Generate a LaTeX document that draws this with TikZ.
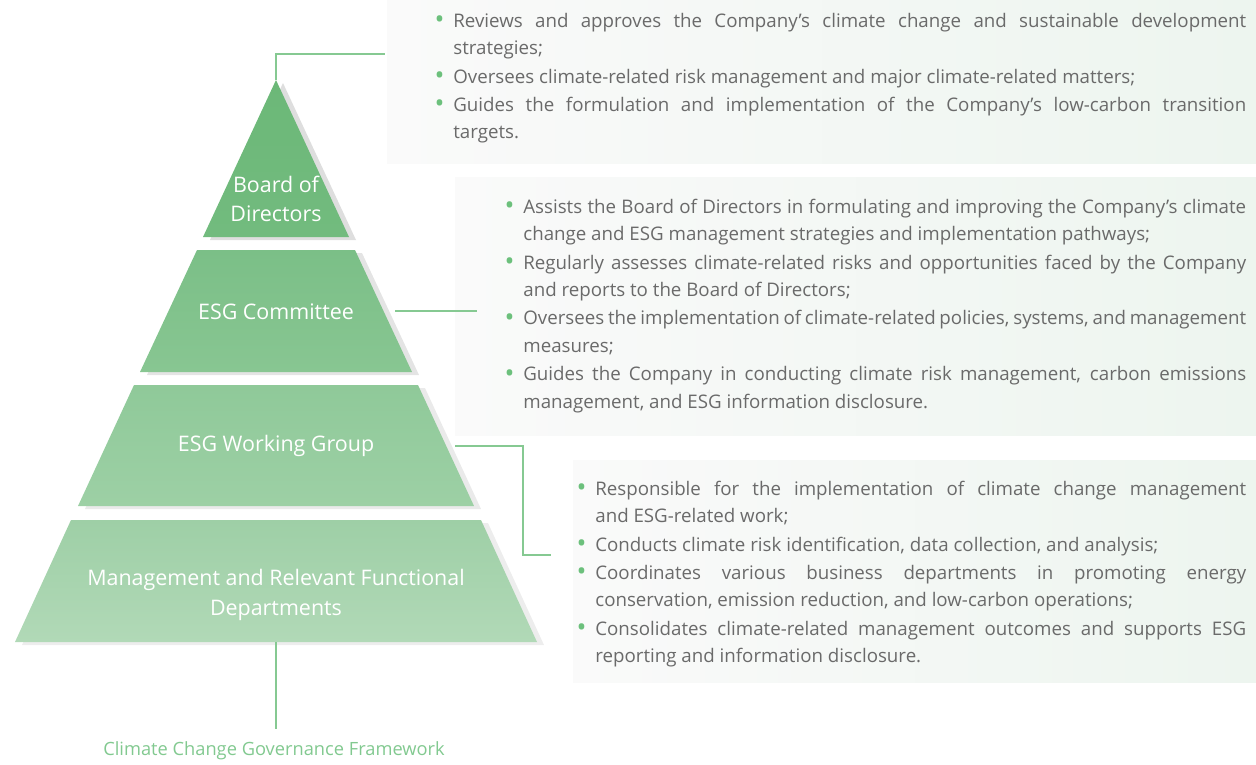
\documentclass[tikz,border=0pt]{standalone}
\usepackage{fontspec}
\setmainfont{Open Sans}[WordSpace={1,1.2,2}]
\usetikzlibrary{positioning}

\definecolor{tierA}{HTML}{6CB878}
\definecolor{tierAb}{HTML}{72BB7E}
\definecolor{tierB}{HTML}{7BBF87}
\definecolor{tierBb}{HTML}{88C692}
\definecolor{tierC}{HTML}{8FC999}
\definecolor{tierCb}{HTML}{9DD0A5}
\definecolor{tierD}{HTML}{9ECFA6}
\definecolor{tierDb}{HTML}{B1D9B7}
\definecolor{shadowgray}{HTML}{DEDEDE}
\definecolor{linkgreen}{HTML}{86C992}
\definecolor{dotgreen}{HTML}{6CC07C}
\definecolor{textgray}{HTML}{6A6A6A}
\definecolor{boxL}{HTML}{FAFAFA}
\definecolor{boxR}{HTML}{EDF5EF}

% no hyphenation in the duty lists
\hyphenpenalty=10000
\exhyphenpenalty=10000

\tikzstyle{tier}=[text=white, align=center, inner sep=0pt, font=\fontsize{12.2}{16.8}\selectfont]
\tikzstyle{link}=[draw=linkgreen, line width=0.65pt]
\tikzstyle{panel}=[left color=boxL, right color=boxR]
\tikzset{duty/.style={anchor=north west, inner sep=0pt, text width=#1, align=justify,
    text=textgray, font=\fontsize{10.65}{15.7}\selectfont}}
\newcommand{\dutydot}{\makebox[0pt][r]{\textcolor{dotgreen}{\fontsize{15}{15}\selectfont\raisebox{-0.05em}{\textbullet}}\hspace{5pt}}}

\begin{document}
\begin{tikzpicture}[x=0.02cm, y=-0.02cm]
    \useasboundingbox (0,0) rectangle (1256,764);

    % panels behind the duty lists
    \shade[panel] (387,0) rectangle (1256,163);
    \shade[panel] (455,177) rectangle (1256,435);
    \shade[panel] (573,460) rectangle (1256,682);

    % shadows, then the tiers
    \fill[shadowgray] (283,83) -- (210,240) -- (356,240) -- cycle;
    \fill[shadowgray!80] (204,253) -- (362,253) -- (419,375) -- (147,375) -- cycle;
    \fill[shadowgray!65] (141,388) -- (425,388) -- (481,509) -- (85,509) -- cycle;
    \fill[shadowgray!55] (78,523) -- (488,523) -- (544,645) -- (22,645) -- cycle;

    \shade[top color=tierA, bottom color=tierAb] (276,80) -- (203,237) -- (349,237) -- cycle;
    \shade[top color=tierB, bottom color=tierBb] (197,250) -- (355,250) -- (412,372) -- (140,372) -- cycle;
    \shade[top color=tierC, bottom color=tierCb] (134,385) -- (418,385) -- (474,506) -- (78,506) -- cycle;
    \shade[top color=tierD, bottom color=tierDb] (71,520) -- (481,520) -- (537,642) -- (15,642) -- cycle;

    \node (board)[tier] at (276,199) {Board of\\Directors};
    \node (committee)[tier] at (276,312) {ESG Committee};
    \node (wgroup)[tier] at (276,446) {ESG Working Group};
    \node (mgmt)[tier] at (276,595) {Management and Relevant Functional\\Departments};

    \node (caption)[text=dotgreen!85, font=\fontsize{10.4}{12}\selectfont] at (274,751) {Climate Change Governance Framework};

    % connectors
    \coordinate (apex) at (276,80);
    \coordinate (boardEnd) at (385,54);
    \coordinate (committeeStart) at (395,311);
    \coordinate (committeeEnd) at (477,311);
    \coordinate (wgroupStart) at (455,446);
    \coordinate (wgroupEnd) at (551,555);
    \coordinate (mgmtBase) at (276,642);
    \coordinate (captionTop) at (276,729);

    \draw[link] (apex) |- (boardEnd);
    \draw[link] (committeeStart) -- (committeeEnd);
    \draw[link] (wgroupStart) -- ++(68,0) |- (wgroupEnd);
    \draw[link] (mgmtBase) -- (captionTop);

    % duties of the board
    \node (b1)[duty=15.86cm] at (453,7.5) {\strut\dutydot Reviews and approves the Company's climate change and sustainable development\linebreak strategies;\strut};
    \node (b2)[duty=15.86cm, below=0pt of b1] {\strut\dutydot Oversees climate-related risk management and major climate-related matters;\strut};
    \node (b3)[duty=15.86cm, below=0pt of b2] {\strut\dutydot Guides the formulation and implementation of the Company's low-carbon transition\linebreak targets.\strut};

    % duties of the committee
    \node (c1)[duty=14.46cm] at (523,193.5) {\strut\dutydot Assists the Board of Directors in formulating and improving the Company's climate\linebreak change and ESG management strategies and implementation pathways;\strut};
    \node (c2)[duty=14.46cm, below=0pt of c1] {\strut\dutydot Regularly assesses climate-related risks and opportunities faced by the Company\linebreak and reports to the Board of Directors;\strut};
    \node (c3)[duty=14.46cm, below=0pt of c2] {\strut\dutydot Oversees the implementation of climate-related policies, systems, and management\linebreak measures;\strut};
    \node (c4)[duty=14.46cm, below=0pt of c3] {\strut\dutydot Guides the Company in conducting climate risk management, carbon emissions\linebreak management, and ESG information disclosure.\strut};

    % duties of the working group
    \node (w1)[duty=13.02cm] at (595,475.5) {\strut\dutydot Responsible for the implementation of climate change management\linebreak and ESG-related work;\strut};
    \node (w2)[duty=13.02cm, below=0pt of w1] {\strut\dutydot Conducts climate risk identification, data collection, and analysis;\strut};
    \node (w3)[duty=13.02cm, below=0pt of w2] {\strut\dutydot Coordinates various business departments in promoting energy\linebreak conservation, emission reduction, and low-carbon operations;\strut};
    \node (w4)[duty=13.02cm, below=0pt of w3] {\strut\dutydot Consolidates climate-related management outcomes and supports ESG\linebreak reporting and information disclosure.\strut};

\end{tikzpicture}
\end{document}
